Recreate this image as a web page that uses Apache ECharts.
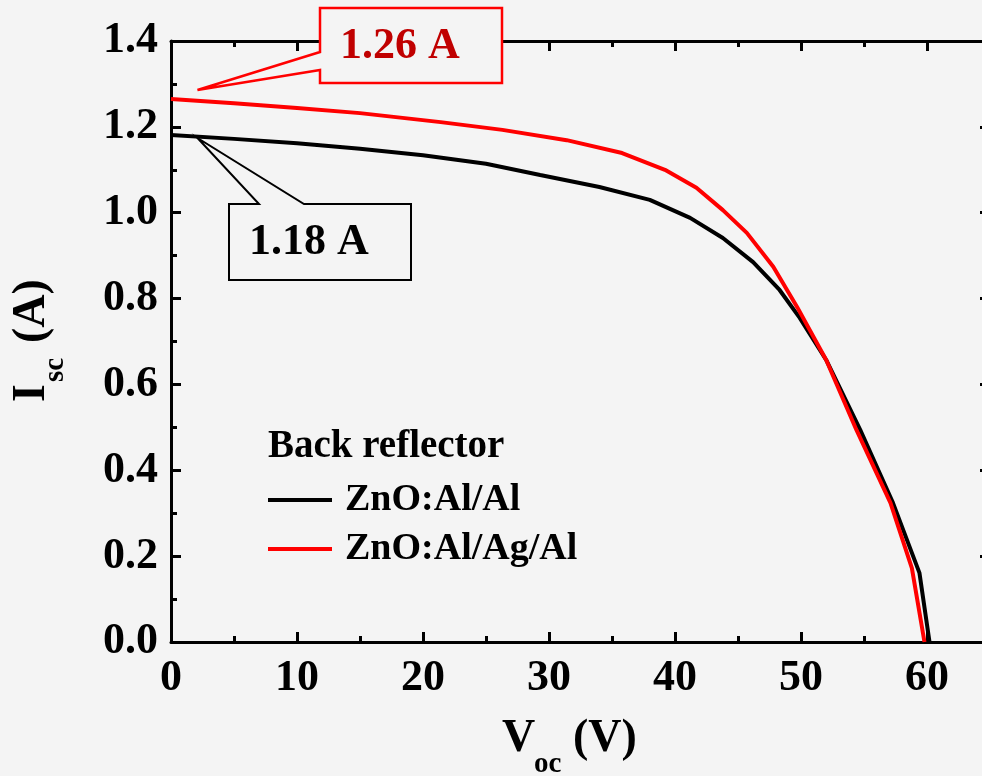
<!DOCTYPE html>
<html><head><meta charset="utf-8">
<script src="https://cdn.jsdelivr.net/npm/echarts@6/dist/echarts.min.js"></script>
<style>html,body{margin:0;padding:0;background:#f4f4f4;overflow:hidden;width:982px;height:776px}#c{width:1060px;height:776px}</style>
</head><body><div id="c"></div>
<script>
// ---- data ----
const seriesNames = ['ZnO:Al/Al', 'ZnO:Al/Ag/Al'];
const vBlack = [0, 5, 10, 15, 20, 25, 29.3, 34, 38, 41.2, 43.8, 46.2, 48.3, 49.9, 52, 54.7, 57.3, 59.4, 60.2];
const iBlack = [1.181, 1.172, 1.162, 1.149, 1.134, 1.114, 1.088, 1.060, 1.030, 0.988, 0.941, 0.885, 0.820, 0.755, 0.657, 0.494, 0.324, 0.161, 0];
const vRed = [0, 5, 10, 15, 21.4, 26.3, 31.4, 35.8, 39.2, 41.7, 43.8, 45.7, 47.8, 49.7, 52, 54.4, 57.1, 58.8, 59.8];
const iRed = [1.265, 1.255, 1.244, 1.232, 1.211, 1.193, 1.169, 1.139, 1.100, 1.058, 1.006, 0.953, 0.874, 0.780, 0.657, 0.494, 0.324, 0.172, 0];
const xTickLabels = [0, 10, 20, 30, 40, 50, 60];
const yTickLabels = ['0.0', '0.2', '0.4', '0.6', '0.8', '1.0', '1.2', '1.4'];
const legendTitle = 'Back reflector';
const calloutTexts = ['1.26 A', '1.18 A'];
const calloutAnchors = [[2.1, 1.286], [2.1, 1.174]];

const FF = '"Liberation Serif", "Times New Roman", serif';
const BG = '#f4f4f4';
const chart = echarts.init(document.getElementById('c'), null, {renderer: 'canvas'});

function zip(xs, ys) { return xs.map((x, k) => [x, ys[k]]); }

function axis(extra) {
  return Object.assign({
    type: 'value',
    axisLine: {show: true, onZero: false, lineStyle: {color: '#000', width: 3}},
    axisTick: {show: true, inside: true, length: 10, lineStyle: {color: '#000', width: 3}},
    minorTick: {show: true, splitNumber: 2, length: 6, lineStyle: {color: '#000', width: 3}},
    splitLine: {show: false},
    minorSplitLine: {show: false}
  }, extra);
}

chart.setOption({
  backgroundColor: BG,
  animation: false,
  grid: [
    {left: 171, top: 41, width: 882, height: 601, containLabel: false},
    {left: 171, top: 41, width: 819, height: 601, containLabel: false}
  ],
  legend: {
    data: seriesNames, orient: 'vertical', left: 268, top: 480, padding: 0,
    icon: 'rect', itemWidth: 64, itemHeight: 4, itemGap: 9, selectedMode: false,
    textStyle: {fontFamily: FF, fontWeight: 'bold', fontSize: 38, color: '#000', lineHeight: 40, padding: [0, 0, 0, 8]}
  },
  xAxis: [
    axis({
      gridIndex: 0, position: 'bottom', min: 0, max: 70, interval: 10,
      axisLabel: {
        show: true, margin: 15, color: '#000', fontFamily: FF, fontWeight: 'bold', fontSize: 44,
        formatter: v => (xTickLabels.indexOf(v) >= 0 ? String(v) : '')
      }
    }),
    axis({gridIndex: 0, position: 'top', min: 0, max: 70, interval: 10, axisLabel: {show: false}}),
    {type: 'value', gridIndex: 1, min: 0, max: 65, show: false}
  ],
  yAxis: [
    axis({
      gridIndex: 0, position: 'left', min: 0, max: 1.4, interval: 0.2,
      axisLabel: {
        show: true, margin: 13, color: '#000', fontFamily: FF, fontWeight: 'bold', fontSize: 44,
        formatter: v => { const k = Math.round(v / 0.2); return yTickLabels[k] !== undefined ? yTickLabels[k] : ''; }
      }
    }),
    axis({gridIndex: 1, position: 'right', min: 0, max: 1.4, interval: 0.2, axisLabel: {show: false}})
  ],
  series: [
    {name: seriesNames[0], type: 'line', data: zip(vBlack, iBlack), showSymbol: false, symbol: 'none',
     color: '#000', lineStyle: {color: '#000', width: 4}, xAxisIndex: 0, yAxisIndex: 0, z: 3},
    {name: seriesNames[1], type: 'line', data: zip(vRed, iRed), showSymbol: false, symbol: 'none',
     color: '#ff0000', lineStyle: {color: '#ff0000', width: 4}, xAxisIndex: 0, yAxisIndex: 0, z: 4}
  ]
});

const tipR = chart.convertToPixel({gridIndex: 0}, calloutAnchors[0]);
const tipB = chart.convertToPixel({gridIndex: 0}, calloutAnchors[1]);

function txt(x, y, text, size, color, rot) {
  const o = {type: 'text', x: x, y: y, z: 110,
    style: {text: text, font: 'bold ' + size + 'px ' + FF, fill: color, align: 'left', verticalAlign: 'middle'}};
  if (rot) o.rotation = rot;
  return o;
}

chart.setOption({
  graphic: [
    txt(268, 447, legendTitle, 39, '#000'),
    {type: 'polygon', z: 100,
     shape: {points: [[320, 8], [502, 8], [502, 83], [320, 83], [320, 70], tipR, [320, 52]]},
     style: {fill: BG, stroke: '#ff0000', lineWidth: 2.5}},
    txt(340, 47, calloutTexts[0], 44, '#c00000'),
    {type: 'polygon', z: 100,
     shape: {points: [[229, 204], [259, 204], tipB, [304, 204], [411, 204], [411, 280], [229, 280]]},
     style: {fill: BG, stroke: '#000', lineWidth: 2}},
    txt(249, 243, calloutTexts[1], 44, '#000'),
    // x axis title V_oc (V)
    txt(502, 739, 'V', 46, '#000'),
    txt(534, 765, 'oc', 29, '#000'),
    txt(573, 739, '(V)', 46, '#000'),
    // y axis title I_sc (A)
    txt(32, 402, 'I', 46, '#000', Math.PI / 2),
    txt(56, 382, 'sc', 29, '#000', Math.PI / 2),
    txt(32, 343, '(A)', 46, '#000', Math.PI / 2)
  ]
});
</script>
</body></html>
